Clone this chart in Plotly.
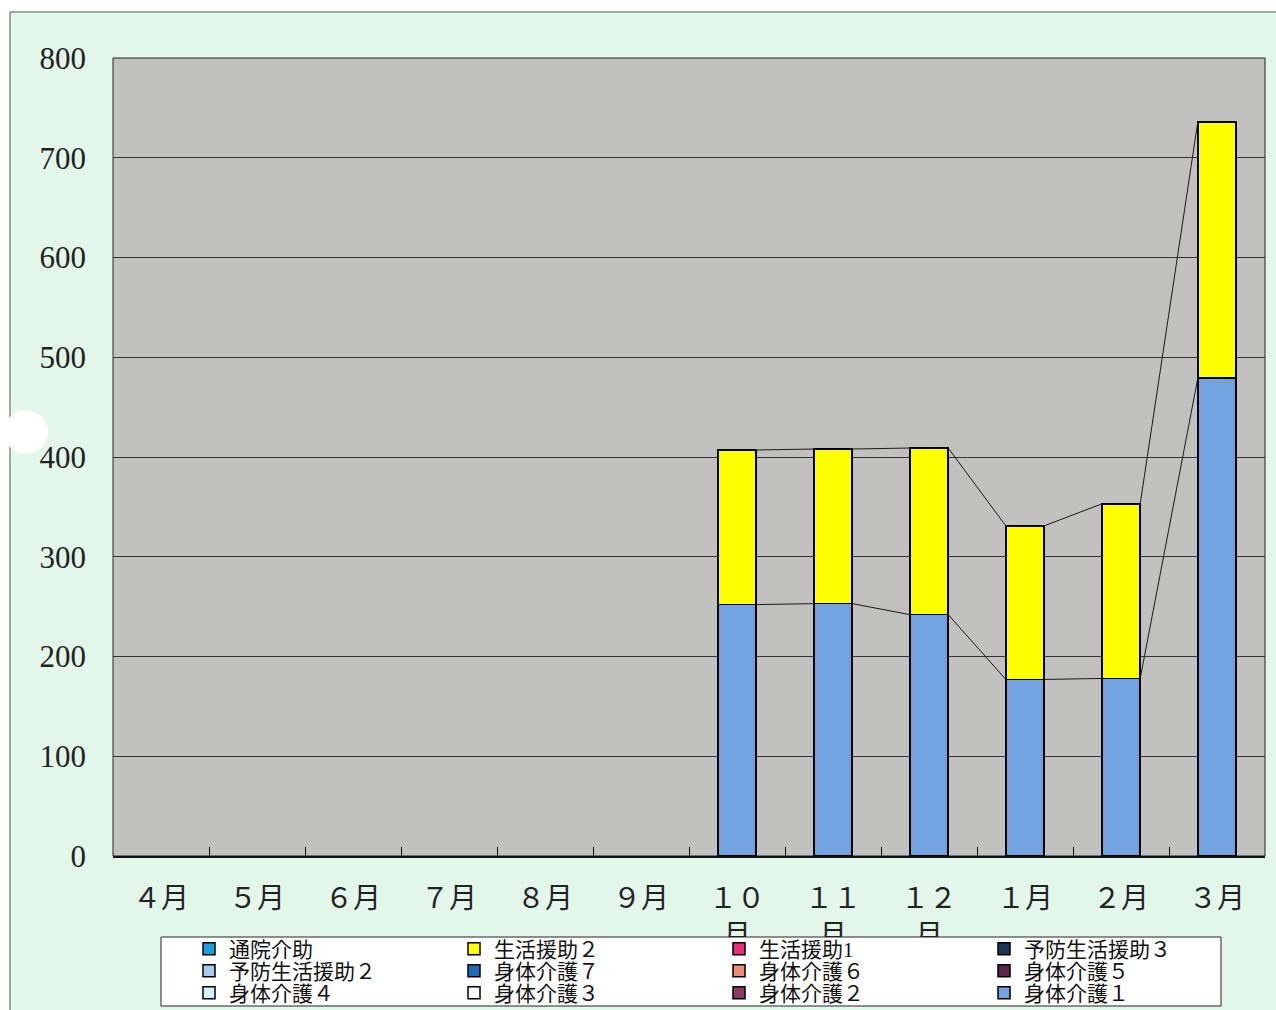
import plotly.graph_objects as go

# ---- data ----
months = ["４月", "５月", "６月", "７月", "８月", "９月",
          "１０<br>月", "１１<br>月", "１２<br>月", "１月", "２月", "３月"]

legend_names = ["通院介助", "生活援助２", "生活援助1", "予防生活援助３",
                "予防生活援助２", "身体介護７", "身体介護６", "身体介護５",
                "身体介護４", "身体介護３", "身体介護２", "身体介護１"]
legend_colors = ["#1aa0dc", "#ffff00", "#e8307c", "#1c3658",
                 "#a9c8f0", "#1a6cb8", "#f28a7a", "#5a2848",
                 "#d4f2fa", "#ffffff", "#8c3c62", "#72a2e0"]

shintai1 = [None, None, None, None, None, None, 252, 253, 242, 177, 178, 479]
seikatsu2 = [None, None, None, None, None, None, 155, 155, 167, 154, 175, 257]

values = {name: [None] * len(months) for name in legend_names}
values["身体介護１"] = shintai1
values["生活援助２"] = seikatsu2

# stacking order (bottom first)
stack_order = ["身体介護１", "身体介護２", "身体介護３", "身体介護４", "身体介護５",
               "身体介護６", "身体介護７", "予防生活援助２", "予防生活援助３",
               "生活援助1", "生活援助２", "通院介助"]

FONT = "Liberation Serif, Noto Sans CJK JP, serif"
BAR_W = 0.4
xs = list(range(len(months)))
legend_ids = ["legend", "legend2", "legend3"]

fig = go.Figure()
for name in stack_order:
    i = legend_names.index(name)
    fig.add_trace(go.Bar(
        x=xs, y=values[name], name=name, width=BAR_W,
        marker=dict(color=legend_colors[i], line=dict(color="black", width=1.5)),
        legend=legend_ids[i // 4], legendrank=i + 1,
    ))

# series lines (Excel style) connecting tops of each stacked series
cum = [0] * len(months)
for name in stack_order:
    vals = values[name]
    if all(v is None for v in vals):
        continue
    cum = [c + (v or 0) for c, v in zip(cum, vals)]
    lx, ly = [], []
    for k in range(len(months) - 1):
        if vals[k] is not None and vals[k + 1] is not None:
            lx += [k + BAR_W / 2, k + 1 - BAR_W / 2, None]
            ly += [cum[k], cum[k + 1], None]
    fig.add_trace(go.Scatter(x=lx, y=ly, mode="lines",
                             line=dict(color="#1a1a1a", width=1),
                             showlegend=False, hoverinfo="skip"))

# invisible trace on x2 for boundary tick marks
fig.add_trace(go.Scatter(x=[-0.5, 11.5], y=[None, None], xaxis="x2",
                         showlegend=False, hoverinfo="skip"))

W, H = 1276, 1010
L, R, T, B = 113, 11, 58, 154
pw, ph = W - L - R, H - T - B


def px(xp):
    return (xp - L) / pw


def py(yp):
    return (H - B - yp) / ph


shapes = [
    # chart area (mint)
    dict(type="rect", xref="paper", yref="paper", layer="below",
         x0=px(10), x1=px(1300), y0=py(1030), y1=py(12),
         fillcolor="#e3f6ea", line=dict(color="#555555", width=1)),
    # plot area (gray)
    dict(type="rect", xref="paper", yref="paper", layer="below",
         x0=0, x1=1, y0=0, y1=1,
         fillcolor="#c1c2bf", line=dict(color="#222222", width=1)),
    # punch hole
    dict(type="circle", xref="paper", yref="paper", layer="below",
         x0=px(4), x1=px(48), y0=py(454), y1=py(410),
         fillcolor="#ffffff", line=dict(width=0)),
    # legend box
    dict(type="rect", xref="paper", yref="paper", layer="above",
         x0=px(161), x1=px(1221), y0=py(1006), y1=py(937),
         fillcolor="#ffffff", line=dict(color="#222222", width=1)),
]

legend_common = dict(
    orientation="h", xanchor="left", yanchor="middle",
    bgcolor="rgba(0,0,0,0)", borderwidth=0,
    entrywidth=220, entrywidthmode="pixels", traceorder="normal",
    font=dict(family=FONT, size=21, color="#111111"),
    itemclick=False, itemdoubleclick=False,
)
row_y = [949, 971, 993]

fig.update_layout(
    width=W, height=H,
    margin=dict(l=L, r=R, t=T, b=B, autoexpand=False),
    paper_bgcolor="#ffffff",
    plot_bgcolor="rgba(0,0,0,0)",
    barmode="stack",
    font=dict(family=FONT, color="#222222"),
    shapes=shapes,
    xaxis=dict(
        range=[-0.5, 11.5], tickmode="array", tickvals=xs, ticktext=months,
        ticks="", showgrid=False, zeroline=False,
        showline=True, linecolor="#111111", linewidth=1.5,
        tickfont=dict(family=FONT, size=28, color="#222222"),
        ticklabelstandoff=17,
    ),
    xaxis2=dict(
        overlaying="x", matches="x", side="bottom", anchor="y",
        tickmode="array", tickvals=[k + 0.5 for k in range(11)],
        ticks="inside", ticklen=9, tickcolor="#111111", tickwidth=1,
        showticklabels=False, showgrid=False, zeroline=False,
    ),
    yaxis=dict(
        range=[0, 800], dtick=100, ticks="",
        showgrid=True, gridcolor="#333333", gridwidth=1,
        zeroline=False, showline=False,
        tickfont=dict(family=FONT, size=31, color="#222222"),
        ticklabelstandoff=26,
    ),
    legend=dict(legend_common, x=px(189), y=py(row_y[0])),
    legend2=dict(legend_common, x=px(189), y=py(row_y[1])),
    legend3=dict(legend_common, x=px(189), y=py(row_y[2])),
    showlegend=True,
)

fig.write_html("out.html", config={"displayModeBar": False},
               post_script="document.body.style.margin='0px';")
